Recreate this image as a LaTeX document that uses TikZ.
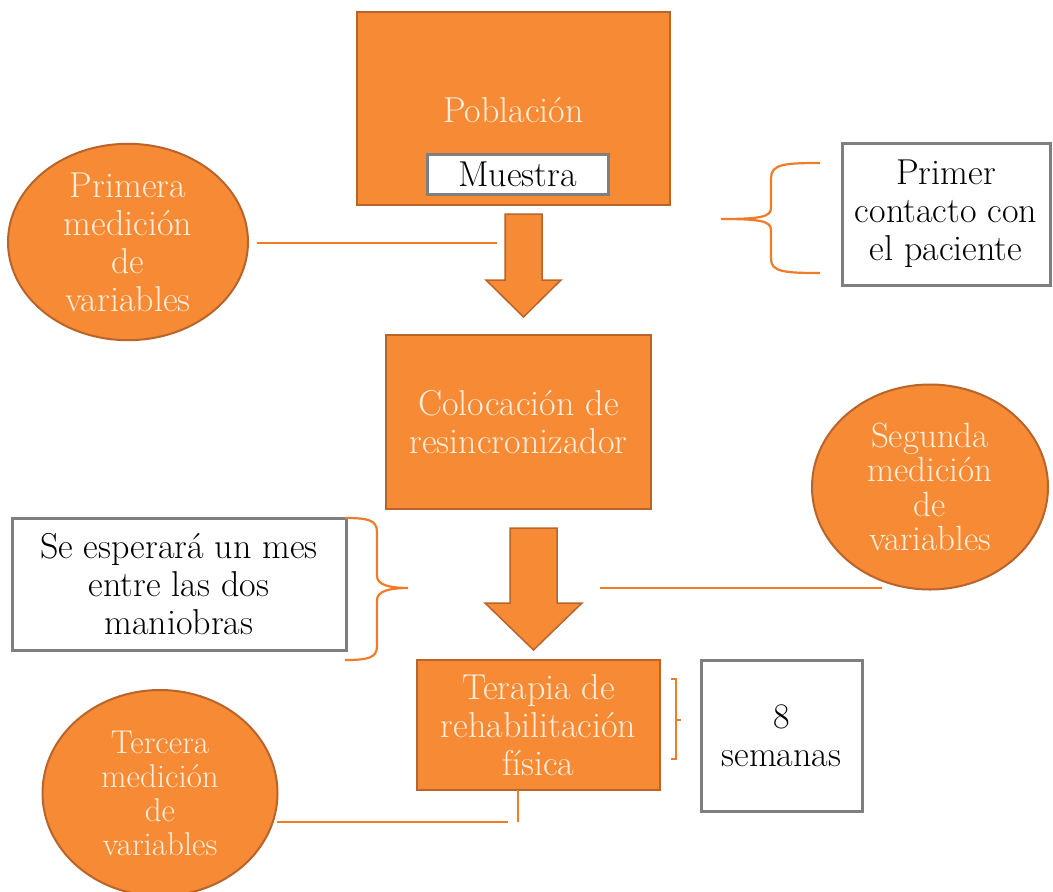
\documentclass[tikz,border=0pt]{standalone}
\usetikzlibrary{shapes.geometric}
\definecolor{ofill}{HTML}{F68A35}
\definecolor{oborder}{HTML}{B8642A}
\definecolor{otext}{HTML}{FDEEDD}
\definecolor{oline}{HTML}{F07C28}
\definecolor{gborder}{HTML}{7F7F7F}
\tikzset{
  obox/.style={draw=oborder, fill=ofill, line width=2.5pt, rectangle, inner sep=0pt,
    text=otext, align=center, font=\fontsize{36}{38}\selectfont},
  wbox/.style={draw=gborder, fill=white, line width=3pt, rectangle, inner sep=0pt,
    text=black, align=center, font=\fontsize{36}{38}\selectfont},
  oell/.style={draw=oborder, fill=ofill, line width=2pt, ellipse, inner sep=0pt,
    text=otext, align=center},
  conn/.style={draw=oline, line width=2.2pt},
  barrow/.style={fill=ofill, draw=oborder, line width=1.5pt, line join=miter},
}
\begin{document}
\begin{tikzpicture}[x=1pt, y=-1pt]
\useasboundingbox (0,0) rectangle (1053,892);
\fill[white] (0,0) rectangle (1053,892);

% Poblacion
\node[obox, minimum width=313pt, minimum height=193pt] (pob) at (513.5,108.5) {};
\node[text=otext, font=\fontsize{36}{38}\selectfont] (pobt) at (513.5,110) {Población};
\node[wbox, minimum width=181pt, minimum height=40pt] (mue) at (517.5,174) {Muestra};

% arrow 1
\draw[barrow] (505,214) -- (542,214) -- (542,280) -- (561,280) -- (523.5,317) -- (486,280) -- (505,280) -- cycle;
\coordinate (a1) at (497,243);

% ellipse 1
\node[oell, minimum width=240pt, minimum height=173pt, font=\fontsize{36}{38}\selectfont] (e1) at (128,242) {Primera\\medición\\de\\variables};
\draw[conn] ([xshift=8pt]e1.east |- a1) -- (a1);

% brace 1 and box
\node[wbox, minimum width=208pt, minimum height=142pt] (pc) at (946,214) {Primer\\contacto con\\el paciente};
\coordinate (b1) at (721,219);
\coordinate (b1t) at (820,163);
\coordinate (b1b) at (820,273);
\draw[conn] (b1t) .. controls (785,163) and (771,164) .. (771,178)
  -- (771,208) .. controls (771,217) and (760,219) .. (b1)
  .. controls (760,219) and (771,221) .. (771,230) -- (771,259)
  .. controls (771,272) and (785,273) .. (b1b);

% Colocacion
\node[obox, minimum width=265pt, minimum height=174pt] (col) at (518.5,422) {Colocación de\\resincronizador};

% arrow 2
\draw[barrow] (510,528) -- (557,528) -- (557,603) -- (582,603) -- (533.5,650) -- (485,603) -- (510,603) -- cycle;

% ellipse 2
\node[oell, minimum width=236pt, minimum height=205pt, font=\fontsize{35}{34.5}\selectfont] (e2) at (930,487) {Segunda\\medición\\de\\variables};
\coordinate (a2) at (600,588);
\draw[conn] (a2) -- (882,588);

% se esperara box with brace
\node[wbox, minimum width=334pt, minimum height=132pt] (esp) at (179,584) {Se esperará un mes\\entre las dos\\maniobras};
\coordinate (b2) at (408,588);
\draw[conn] (345,518) .. controls (368,518) and (377,520) .. (377,532)
  -- (377,576) .. controls (377,585) and (390,588) .. (b2)
  .. controls (390,588) and (377,591) .. (377,600) -- (377,646)
  .. controls (377,658) and (368,660) .. (345,660);

% Terapia
\node[obox, minimum width=243pt, minimum height=130pt] (ter) at (538.5,725) {Terapia de\\rehabilitación\\física};

% 8 semanas
\node[wbox, minimum width=161pt, minimum height=151pt] (sem) at (781.5,735.5) {8\\semanas};
\draw[conn, line width=2pt] (671,679) -- (676,679) -- (676,759) -- (671,759);
\draw[conn, line width=2pt] (676,720) -- (681,720);

% ellipse 3
\node[oell, minimum width=235pt, minimum height=206pt, font=\fontsize{33}{34}\selectfont] (e3) at (160,793) {Tercera\\medición\\de\\variables};
\coordinate (t3) at (518,822);
\draw[conn] (518,790) -- (t3);
\draw[conn] (508,822) -- (277,822);
\end{tikzpicture}
\end{document}
